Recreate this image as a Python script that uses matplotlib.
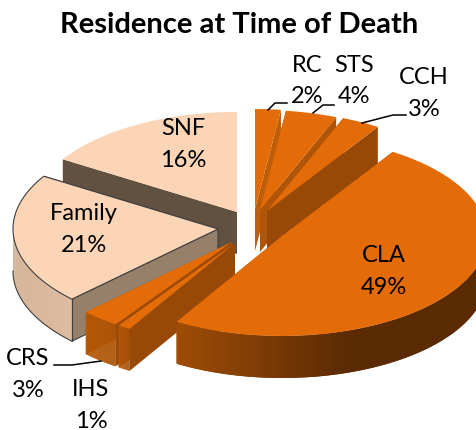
import matplotlib
matplotlib.use("Agg")
import matplotlib.pyplot as plt
import numpy as np
from matplotlib import colors as mcolors

plt.rcParams["font.family"] = ["Lato", "DejaVu Sans"]

categories = ["RC", "STS", "CCH", "CLA", "IHS", "CRS", "Family", "SNF"]
values = [2, 4, 3, 49, 1, 3, 21, 16]

# explosion of each slice from the pie centre, in pixels
offset_x = [3, 8, 15, 30, -17, -20, -34, -15]
offset_y = [-16, -15, -14, 11, 18, 17, 4, -13]

top_colors = ["#e36c09"] * 6 + ["#fbd5b5", "#fbd5b5"]
face_colors = ["#bf5e08", "#b05507", "#984807", "#984807", "#984807", "#9c4a06", "#978069", "#625040"]
wall_left = ["#984807"] * 3 + ["#a04d06", "#b85a08", "#b85a08", "#d4b499", "#625040"]
wall_right = ["#984807"] * 3 + ["#5a2a03", "#a85207", "#ad5608", "#dfbca1", "#625040"]
outlined = [False] * 6 + [True, False]

centre_x, centre_y = 252, 226
radius_x, radius_y = 205, 100
depth = 42
line_dark = "#404040"


def arc_points(cx, cy, a0, a1, n=80):
    t = np.radians(np.linspace(a0, a1, n))
    return cx + radius_x * np.sin(t), cy - radius_y * np.cos(t)


def draw_slice(ax, i, a0, a1, z):
    cx = centre_x + offset_x[i]
    cy = centre_y + offset_y[i]
    edge = line_dark if outlined[i] else "none"
    lw = 0.8 if outlined[i] else 0

    # flat cut faces, the hidden ones get covered by the top and the wall
    for a in (a1, a0):
        x, y = arc_points(cx, cy, a, a, 1)
        ax.fill(
            [cx, x[0], x[0], cx],
            [cy, y[0], y[0] + depth, cy + depth],
            facecolor=face_colors[i], edgecolor=edge, linewidth=lw, zorder=z,
        )

    # outer wall, only the part that faces the viewer, shaded in strips
    lo, hi = max(a0, 90), min(a1, 270)
    if lo < hi:
        x, y = arc_points(cx, cy, lo, hi, 120)
        x_min, x_max = x.min(), x.max()
        if categories[i] == "CLA":
            x_max = 350
        left = np.array(mcolors.to_rgb(wall_left[i]))
        right = np.array(mcolors.to_rgb(wall_right[i]))
        # strips overlap the next one so no seams show
        for k in range(len(x) - 1):
            k2 = min(k + 2, len(x) - 1)
            f = min(1, (x[k] - x_min) / (x_max - x_min))
            c = left + (right - left) * f
            ax.fill(
                [x[k], x[k2], x[k2], x[k]],
                [y[k], y[k2], y[k2] + depth, y[k] + depth],
                facecolor=c, edgecolor="none", linewidth=0, zorder=z + 1,
            )
        if outlined[i]:
            ax.plot(x, y + depth, color=line_dark, lw=0.8, zorder=z + 1)
            ax.plot([x[0], x[0]], [y[0], y[0] + depth], color=line_dark, lw=0.8, zorder=z + 1)

    x, y = arc_points(cx, cy, a0, a1)
    ax.fill(
        np.r_[cx, x], np.r_[cy, y],
        facecolor=top_colors[i], edgecolor=edge, linewidth=lw, zorder=z + 2,
    )


fig = plt.figure(figsize=(4.76, 4.31), dpi=100)
ax = fig.add_axes([0, 0, 1, 1])
ax.set_xlim(0, 476)
ax.set_ylim(431, 0)
ax.axis("off")

edges = np.r_[0, np.cumsum(values)] / sum(values) * 360
# back slices first, so the front ones sit on top of them
draw_order = [7, 6, 0, 1, 2, 5, 4, 3]
for pos, i in enumerate(draw_order):
    draw_slice(ax, i, edges[i], edges[i + 1], pos * 3 + 1)

ax.text(239, 25, "Residence at Time of Death", fontsize=21, fontweight="bold",
        ha="center", va="center", color="black", zorder=200)

label_x = [307, 354, 424, 384, 91, 28, 84, 183]
label_y = [65, 65, 78, 256, 390, 359, 214, 129]
for name, v, x, y in zip(categories, values, label_x, label_y):
    ax.text(x, y, name, fontsize=17, ha="center", va="center", zorder=200)
    ax.text(x, y + 32, f"{v}%", fontsize=17, ha="center", va="center", zorder=200)

leaders = [
    ([268, 275, 287], [111, 104, 104]),
    ([313, 323, 334], [114, 106, 106]),
    ([362, 393, 406], [124, 116, 116]),
    ([54, 72, 101], [366, 366, 362]),
]
for lx, ly in leaders:
    ax.plot(lx, ly, color="black", lw=1.1, zorder=150)

fig.savefig("out.png", dpi=100)
